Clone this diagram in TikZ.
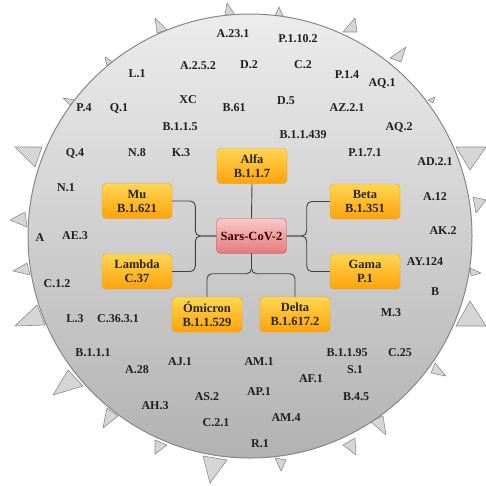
\documentclass[tikz,border=0pt]{standalone}
\usepackage{fontspec}
\setmainfont{Liberation Serif}
\usepackage{tikz}
\usetikzlibrary{calc}
\definecolor{shellrim}{RGB}{135,135,135}
\definecolor{shelltop}{RGB}{236,236,236}
\definecolor{shellbot}{RGB}{178,178,178}
\definecolor{orangetop}{RGB}{255,214,82}
\definecolor{orangebot}{RGB}{255,163,10}
\definecolor{orangerim}{RGB}{228,160,30}
\definecolor{pinktop}{RGB}{250,200,200}
\definecolor{pinkbot}{RGB}{228,122,122}
\definecolor{pinkrim}{RGB}{190,90,90}
\tikzset{
  variant/.style={draw=orangerim, rounded corners=4pt, top color=orangetop, bottom color=orangebot,
    minimum width=70pt, minimum height=35pt, inner sep=1pt, align=center, text=black!85,
    font=\fontsize{12.5}{14}\selectfont\bfseries},
  core/.style={variant, draw=pinkrim, top color=pinktop, bottom color=pinkbot, text=black!80!red},
  lineage/.style={inner sep=0pt, text=black!88, font=\fontsize{12}{14}\selectfont\bfseries},
  spike/.style={fill=black!16, draw=black!45, line width=0.6pt, line join=round},
  link/.style={draw=black!75, line width=0.9pt, rounded corners=5pt}
}

\begin{document}
\begin{tikzpicture}[x=1pt,y=-1pt]
    \useasboundingbox (0,0) rectangle (486,485);
    % Spikes round the shell (tip first)
    \foreach \a/\b/\c in {{155,18}/{167,30}/{157,33}, {227,3}/{235,15}/{225,15},
        {279,7}/{283,16}/{275,16}, {355,18}/{357,32}/{343,32}, {406,47}/{401,62}/{390,58},
        {435,97}/{433,103}/{428,100}, {486,147}/{456,147}/{470,170}, {486,200}/{473,197}/{476,213},
        {481,273}/{470,268}/{471,276}, {486,326}/{456,326}/{470,301}, {446,376}/{435,363}/{431,373},
        {386,435}/{383,416}/{370,421}, {356,455}/{355,438}/{343,445}, {281,471}/{275,458}/{286,460},
        {210,483}/{203,456}/{227,460}, {155,454}/{155,440}/{167,445}, {103,428}/{107,408}/{118,416},
        {53,395}/{68,370}/{83,386}, {15,326}/{37,305}/{45,325}, {13,271}/{27,263}/{30,275},
        {10,220}/{25,212}/{27,227}, {15,147}/{42,147}/{35,167}, {63,98}/{75,100}/{70,105},
        {105,57}/{113,62}/{107,66}} {
        \filldraw[spike] (\a) -- (\b) -- (\c) -- cycle;
    }
    % Shell
    \path[draw=shellrim, line width=1pt, top color=shelltop, bottom color=shellbot] (250,236) circle (222);
    % Lineages inside the shell
    \foreach \t/\x/\y [count=\i] in {A.23.1/233/34, P.1.10.2/298/39, L.1/137/74, A.2.5.2/198/66,
        D.2/249/65, C.2/303/65, P.1.4/347/75, AQ.1/382/83, P.4/84/108, Q.1/119/108, XC/188/100,
        B.61/234/108, D.5/286/101, AZ.2.1/347/108, B.1.1.5/180/127, AQ.2/399/127, B.1.1.439/303/135,
        Q.4/75/153, N.8/137/153, K.3/181/153, P.1.7.1/365/153, AD.2.1/435/162, N.1/66/188,
        A.12/435/197, AK.2/443/231, A/40/238, AE.3/75/236, AY.124/425/262, C.1.2/57/284, B/435/292,
        M.3/391/313, L.3/75/319, C.36.3.1/118/319, B.1.1.1/93/353, B.1.1.95/347/353, C.25/400/353,
        AJ.1/180/362, AM.1/259/362, A.28/137/370, S.1/355/370, AF.1/311/379, AP.1/259/392,
        AS.2/207/397, B.4.5/356/397, AH.3/155/406, AM.4/286/418, C.2.1/216/423, R.1/260/444} {
        \node[lineage] (lin\i) at (\x,\y) {\t};
    }
    % Variants of concern
    \node[core] (sars) at (251.5,236) {Sars-CoV-2};
    \node[variant] (alfa) at (252,166) {Alfa\\B.1.1.7};
    \node[variant] (mu) at (137,201) {Mu\\B.1.621};
    \node[variant] (beta) at (365,201.5) {Beta\\B.1.351};
    \node[variant] (lambda) at (137,271.5) {Lambda\\C.37};
    \node[variant] (gama) at (365,271.5) {Gama\\P.1};
    \node[variant] (omicron) at (207,314.5) {Ómicron\\B.1.1.529};
    \node[variant] (delta) at (295,314.5) {Delta\\B.1.617.2};
    % Tree links
    \draw[link] (sars.north) -- (alfa.south);
    \draw[link] (sars.west) -- ++(-21,0) |- (mu.east);
    \draw[link] (sars.west) -- ++(-21,0) |- (lambda.east);
    \draw[link] (sars.east) -- ++(20,0) |- (beta.west);
    \draw[link] (sars.east) -- ++(20,0) |- (gama.west);
    \draw[link] (sars.south) -- ++(0,20) -| (omicron.north);
    \draw[link] (sars.south) -- ++(0,20) -| (delta.north);
\end{tikzpicture}
\end{document}
